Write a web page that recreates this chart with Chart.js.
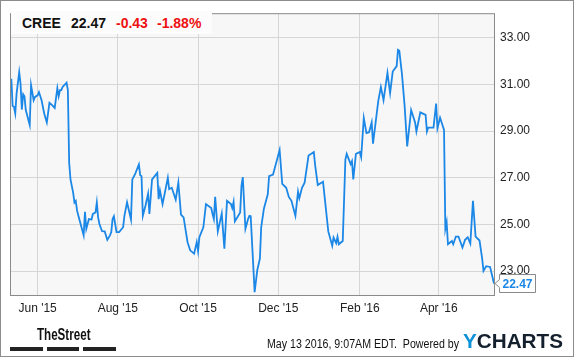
<!DOCTYPE html>
<html>
<head>
<meta charset="utf-8">
<script src="https://cdn.jsdelivr.net/npm/chart.js@4.4.1/dist/chart.umd.min.js"></script>
<style>
  html, body { margin: 0; padding: 0; background: #fff; }
  #wrap { position: relative; width: 575px; height: 358px; overflow: hidden; font-family: 'Liberation Sans', Arial, sans-serif; }
  #wrap canvas { position: absolute; left: 0; top: 0; }
  #frame { position: absolute; left: 0; top: 0; width: 574px; height: 357px; border: 1px solid #8c8c8c; box-sizing: border-box; pointer-events: none; }
  #hdrbox { position: absolute; left: 11px; top: 11px; width: 201px; height: 23px; background: #fcfcfc; }
  .hdr { position: absolute; top: 15px; line-height: 16px; font-size: 14px; font-weight: bold; color: #111; white-space: pre; }
  .red { color: #ee1111; }
  .fit { position: absolute; white-space: pre; transform-origin: 0 50%; }
  #street { left: 37px; top: 326px; font-family: 'Liberation Sans Narrow', 'Liberation Sans', Arial, sans-serif; font-weight: bold; font-size: 16px; line-height: 18px; color: #111; }
  .bar { position: absolute; top: 347px; height: 4px; background: #222; }
  #stamp { left: 267px; top: 337px; font-size: 12px; line-height: 14px; color: #111; }
  #ycharts { left: 463px; top: 330px; font-size: 20px; line-height: 22px; font-weight: bold; color: #14202e; }
  #ycharts .y { color: #0d92d8; }
</style>
</head>
<body>
<div id="wrap">
  <canvas id="c" width="575" height="358"></canvas>
  <div id="hdrbox"></div>
  <div class="hdr" style="left:22px">CREE</div>
  <div class="hdr" style="left:71px">22.47</div>
  <div class="hdr red" style="left:116px">-0.43</div>
  <div class="hdr red" style="left:157px">-1.88%</div>
  <div id="street" class="fit" data-w="53.5">TheStreet</div>
  <div class="bar" style="left:10px;width:33px"></div>
  <div class="bar" style="left:47px;width:32px"></div>
  <div class="bar" style="left:83px;width:33px"></div>
  <div id="stamp" class="fit" data-w="192">May 13 2016, 9:07AM EDT.  Powered by</div>
  <div id="ycharts" class="fit" data-w="100"><span class="y">Y</span>CHARTS</div>
  <div id="frame"></div>
</div>
<script>
const dates = [
  '2015-05-12','2015-05-13','2015-05-14','2015-05-15','2015-05-16','2015-05-18','2015-05-19','2015-05-20','2015-05-21','2015-05-22',
  '2015-05-23','2015-05-26','2015-05-27','2015-05-29','2015-05-30','2015-06-01','2015-06-02','2015-06-04','2015-06-06','2015-06-08',
  '2015-06-10','2015-06-12','2015-06-14','2015-06-16','2015-06-17','2015-06-18','2015-06-19','2015-06-20','2015-06-23','2015-06-24',
  '2015-06-25','2015-06-26','2015-06-28','2015-06-29','2015-06-30','2015-07-01','2015-07-02','2015-07-04','2015-07-06','2015-07-07',
  '2015-07-08','2015-07-09','2015-07-10','2015-07-12','2015-07-13','2015-07-15','2015-07-16','2015-07-17','2015-07-18','2015-07-20',
  '2015-07-22','2015-07-24','2015-07-26','2015-07-27','2015-07-28','2015-07-29','2015-07-31','2015-08-02','2015-08-05','2015-08-06',
  '2015-08-08','2015-08-11','2015-08-12','2015-08-14','2015-08-17','2015-08-18','2015-08-19','2015-08-20','2015-08-22','2015-08-24',
  '2015-08-25','2015-08-27','2015-08-31','2015-09-01','2015-09-02','2015-09-04','2015-09-08','2015-09-09','2015-09-11','2015-09-14',
  '2015-09-16','2015-09-18','2015-09-20','2015-09-23','2015-09-25','2015-09-28','2015-09-30','2015-10-01','2015-10-02','2015-10-05',
  '2015-10-07','2015-10-11','2015-10-12','2015-10-13','2015-10-14','2015-10-16','2015-10-19','2015-10-21','2015-10-23','2015-10-26',
  '2015-10-27','2015-10-28','2015-10-29','2015-11-02','2015-11-03','2015-11-04','2015-11-06','2015-11-08','2015-11-09','2015-11-10',
  '2015-11-13','2015-11-15','2015-11-17','2015-11-18','2015-11-20','2015-11-23','2015-11-24','2015-11-27','2015-12-02','2015-12-04',
  '2015-12-07','2015-12-09','2015-12-11','2015-12-14','2015-12-16','2015-12-17','2015-12-19','2015-12-21','2015-12-24','2015-12-28',
  '2015-12-29','2015-12-31','2016-01-04','2016-01-08','2016-01-11','2016-01-12','2016-01-14','2016-01-15','2016-01-16','2016-01-19',
  '2016-01-21','2016-01-22','2016-01-25','2016-01-26','2016-01-27','2016-01-29','2016-02-01','2016-02-02','2016-02-04','2016-02-06',
  '2016-02-08','2016-02-10','2016-02-11','2016-02-13','2016-02-15','2016-02-17','2016-02-19','2016-02-22','2016-02-24','2016-02-26',
  '2016-02-29','2016-03-01','2016-03-02','2016-03-04','2016-03-06','2016-03-08','2016-03-11','2016-03-14','2016-03-15','2016-03-18',
  '2016-03-22','2016-03-23','2016-03-24','2016-03-28','2016-03-30','2016-03-31','2016-04-02','2016-04-03','2016-04-05','2016-04-06',
  '2016-04-07','2016-04-08','2016-04-11','2016-04-12','2016-04-14','2016-04-16','2016-04-19','2016-04-21','2016-04-23','2016-04-25',
  '2016-04-27','2016-04-29','2016-05-02','2016-05-04','2016-05-05','2016-05-07','2016-05-10','2016-05-13'
];
const prices = [
  31.24,30.07,30.04,29.75,30.60,31.52,31.03,29.92,30.58,30.49,
  29.90,29.26,30.96,30.32,30.46,30.53,30.67,30.32,29.75,29.37,
  30.21,30.11,29.99,30.84,30.49,30.75,30.75,30.89,31.07,30.75,
  27.63,26.93,26.36,25.94,26.01,25.59,25.37,24.95,24.53,25.54,
  24.81,25.02,25.23,25.21,25.45,25.51,25.94,25.30,25.02,24.71,
  24.70,24.34,24.53,24.67,25.23,25.35,24.67,24.67,24.88,25.37,
  25.95,25.21,26.93,27.14,27.57,27.11,27.07,25.37,25.80,26.32,
  25.45,26.93,27.21,26.08,26.46,25.87,27.00,26.51,26.57,26.06,
  26.79,25.42,25.30,24.24,23.89,23.75,24.24,23.86,24.45,24.88,
  25.87,25.70,25.45,25.23,26.18,24.70,25.47,23.96,26.01,25.87,
  25.70,25.97,25.13,25.51,26.65,27.03,24.81,25.23,25.37,25.35,
  22.10,23.04,23.54,24.88,25.66,26.29,27.07,27.14,28.19,26.74,
  26.57,26.18,26.01,25.37,26.40,26.12,26.57,26.79,27.95,28.10,
  27.54,26.69,26.83,24.70,24.09,24.44,24.20,24.47,24.15,24.29,
  27.78,28.02,27.58,27.71,26.93,28.02,28.10,27.88,29.56,28.91,
  28.95,29.37,28.46,29.37,30.28,30.89,30.32,31.49,30.63,31.55,
  31.78,32.48,32.44,31.45,30.11,28.34,29.90,29.37,28.98,29.80,
  29.69,28.98,29.15,29.15,30.18,29.12,29.57,29.40,29.05,24.81,
  25.09,24.15,24.29,24.15,24.48,24.48,24.01,24.34,24.45,24.18,
  26.01,24.48,24.31,23.54,23.01,23.21,23.18,22.47
];
const xTickDates = ['2015-06-01','2015-08-01','2015-10-01','2015-12-01','2016-02-01','2016-04-01'];
const xTickLabels = ["Jun '15","Aug '15","Oct '15","Dec '15","Feb '16","Apr '16"];
const yTickValues = [23, 25, 27, 29, 31, 33];
const xRange = ['2015-05-11', '2016-05-13'];
const yRange = [21.977, 34.048];

const dayNum = s => Date.parse(s + 'T00:00:00Z') / 864e5;
const LINE = '#1b87e6';

// fit footer texts to their widths in the reference
document.querySelectorAll('.fit').forEach(el => {
  const w = el.getBoundingClientRect().width;
  const target = parseFloat(el.dataset.w);
  if (w > 0) el.style.transform = 'scaleX(' + (target / w) + ')';
});

const plotDeco = {
  id: 'plotDeco',
  beforeDraw(chart) {
    const {ctx, chartArea: a} = chart;
    ctx.save();
    ctx.fillStyle = '#f7f7f7';
    ctx.fillRect(a.left, a.top, a.right - a.left, a.bottom - a.top);
    ctx.restore();
  },
  afterDraw(chart) {
    const {ctx, chartArea: a, scales} = chart;
    ctx.save();
    ctx.strokeStyle = '#8a8a8a';
    ctx.lineWidth = 1;
    ctx.strokeRect(a.left + 0.5, a.top + 0.5, a.right - a.left, a.bottom - a.top);
    // last value tag
    const last = prices[prices.length - 1];
    const y = scales.y.getPixelForValue(last);
    const bx = a.right + 5.5, bw = 36, bh = 18;
    const by = Math.round(y - bh / 2) + 0.5;
    ctx.beginPath();
    ctx.moveTo(a.right + 1, y);
    ctx.lineTo(bx, y - 4);
    ctx.lineTo(bx, by);
    ctx.lineTo(bx + bw, by);
    ctx.lineTo(bx + bw, by + bh);
    ctx.lineTo(bx, by + bh);
    ctx.lineTo(bx, y + 4);
    ctx.closePath();
    ctx.fillStyle = '#fff';
    ctx.fill();
    ctx.strokeStyle = '#8a8a8a';
    ctx.stroke();
    ctx.fillStyle = LINE;
    ctx.font = "bold 12px 'Liberation Sans', Arial, sans-serif";
    ctx.textAlign = 'center';
    ctx.textBaseline = 'middle';
    ctx.fillText(last.toFixed(2), bx + bw / 2, y + 1);
    ctx.restore();
  }
};

Chart.defaults.font.family = "'Liberation Sans', Arial, sans-serif";
Chart.defaults.font.size = 12;
Chart.defaults.color = '#222';

new Chart(document.getElementById('c'), {
  type: 'line',
  data: {
    datasets: [{
      data: dates.map((d, i) => ({x: dayNum(d), y: prices[i]})),
      borderColor: LINE,
      borderWidth: 1.8,
      pointRadius: 0,
      tension: 0,
      fill: false
    }]
  },
  options: {
    responsive: false,
    animation: false,
    devicePixelRatio: 1,
    layout: {padding: {left: 10, top: 10, right: 0, bottom: 0}},
    plugins: {legend: {display: false}, tooltip: {enabled: false}},
    scales: {
      x: {
        type: 'linear',
        min: dayNum(xRange[0]),
        max: dayNum(xRange[1]),
        afterBuildTicks: s => { s.ticks = xTickDates.map(d => ({value: dayNum(d)})); },
        afterFit: s => { s.height = 63; },
        grid: {color: '#d6d6d6', lineWidth: 1, drawTicks: false},
        border: {display: false},
        ticks: {
          autoSkip: false, maxRotation: 0, padding: 6, color: '#222',
          callback: (v, i) => xTickLabels[i]
        }
      },
      y: {
        position: 'right',
        min: yRange[0],
        max: yRange[1],
        afterBuildTicks: s => { s.ticks = yTickValues.map(v => ({value: v})); },
        afterFit: s => { s.width = 81; },
        grid: {color: '#d6d6d6', lineWidth: 1, drawTicks: false},
        border: {display: false},
        ticks: {
          padding: 6, color: '#222',
          callback: v => Number(v).toFixed(2)
        }
      }
    }
  },
  plugins: [plotDeco]
});
</script>
</body>
</html>
